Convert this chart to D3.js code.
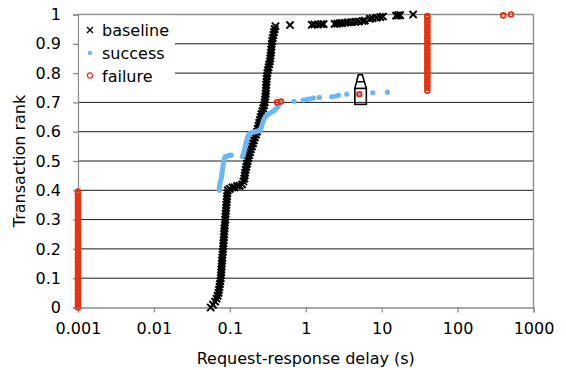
<!DOCTYPE html>
<html>
<head>
<meta charset="utf-8">
<script src="https://cdn.jsdelivr.net/npm/d3@7"></script>
<style>
  html, body { margin: 0; padding: 0; background: #fff; }
  svg { display: block; font-family: "DejaVu Sans", Verdana, sans-serif; }
</style>
</head>
<body>
<script>
// Axis ticks
const xTicks = [0.001, 0.01, 0.1, 1, 10, 100, 1000];
const xTickLabels = ["0.001", "0.01", "0.1", "1", "10", "100", "1000"];
const yTicks = [0, 0.1, 0.2, 0.3, 0.4, 0.5, 0.6, 0.7, 0.8, 0.9, 1];
const yTickLabels = ["0", "0.1", "0.2", "0.3", "0.4", "0.5", "0.6", "0.7", "0.8", "0.9", "1"];

// Series: [delay (s), transaction rank]
const baseline = [
  [0.056, 0.00], [0.060, 0.01], [0.064, 0.02], [0.067, 0.03], [0.069, 0.04], [0.071, 0.05],
  [0.072, 0.06], [0.073, 0.07], [0.074, 0.08], [0.075, 0.09], [0.076, 0.10], [0.0765, 0.11],
  [0.077, 0.12], [0.0775, 0.13], [0.078, 0.14], [0.0785, 0.15], [0.079, 0.16], [0.0795, 0.17],
  [0.080, 0.18], [0.081, 0.19], [0.0815, 0.20], [0.082, 0.21], [0.0825, 0.22], [0.083, 0.23],
  [0.0835, 0.24], [0.084, 0.25], [0.0845, 0.26], [0.085, 0.27], [0.086, 0.28], [0.0865, 0.29],
  [0.087, 0.30], [0.0875, 0.31], [0.088, 0.32], [0.089, 0.33], [0.0895, 0.34], [0.090, 0.35],
  [0.091, 0.36], [0.0915, 0.37], [0.092, 0.38], [0.093, 0.39], [0.094, 0.40], [0.100, 0.405],
  [0.108, 0.41], [0.116, 0.41], [0.125, 0.415], [0.135, 0.415], [0.145, 0.42], [0.151, 0.43],
  [0.155, 0.44], [0.157, 0.45], [0.159, 0.46], [0.162, 0.47], [0.165, 0.48], [0.168, 0.49],
  [0.172, 0.50], [0.176, 0.51], [0.180, 0.52], [0.185, 0.53], [0.190, 0.54], [0.196, 0.55],
  [0.202, 0.56], [0.208, 0.57], [0.214, 0.58], [0.221, 0.59], [0.228, 0.60], [0.233, 0.61],
  [0.238, 0.62], [0.244, 0.63], [0.249, 0.64], [0.255, 0.65], [0.261, 0.66], [0.268, 0.67],
  [0.275, 0.68], [0.282, 0.69], [0.288, 0.70], [0.291, 0.71], [0.294, 0.72], [0.297, 0.73],
  [0.299, 0.74], [0.300, 0.75], [0.302, 0.76], [0.304, 0.77], [0.306, 0.78], [0.308, 0.79],
  [0.312, 0.80], [0.318, 0.81], [0.324, 0.82], [0.330, 0.83], [0.337, 0.84], [0.341, 0.85],
  [0.345, 0.86], [0.348, 0.87], [0.351, 0.88], [0.354, 0.89], [0.357, 0.90], [0.362, 0.91],
  [0.368, 0.92], [0.375, 0.93], [0.382, 0.94], [0.390, 0.95], [0.400, 0.96],
  [0.62, 0.964], [1.2, 0.965], [1.3, 0.966], [1.45, 0.966], [1.6, 0.967], [1.72, 0.967],
  [2.4, 0.968], [2.6, 0.969], [2.8, 0.970], [3.0, 0.971], [3.3, 0.972], [3.6, 0.973],
  [4.0, 0.974], [4.5, 0.975], [5.0, 0.976], [5.6, 0.978], [6.0, 0.979], [7.0, 0.985],
  [7.6, 0.987], [8.6, 0.989], [9.6, 0.991], [10.4, 0.993], [15.5, 0.996], [16.5, 0.997],
  [17.5, 0.998], [26, 1.0]
];

const success = [
  [0.001, 0.40],
  [0.0725, 0.40], [0.073, 0.41], [0.074, 0.42], [0.075, 0.43], [0.077, 0.44], [0.078, 0.45],
  [0.079, 0.46], [0.080, 0.47], [0.081, 0.48], [0.082, 0.49], [0.083, 0.50], [0.085, 0.51],
  [0.088, 0.515], [0.093, 0.517], [0.098, 0.519], [0.104, 0.52],
  [0.146, 0.515], [0.150, 0.52], [0.153, 0.53], [0.156, 0.54], [0.160, 0.55], [0.163, 0.56],
  [0.166, 0.57], [0.170, 0.58], [0.177, 0.59], [0.186, 0.595], [0.196, 0.597], [0.207, 0.599],
  [0.218, 0.60], [0.230, 0.602], [0.242, 0.604], [0.252, 0.607], [0.260, 0.615], [0.267, 0.625],
  [0.275, 0.635], [0.284, 0.645], [0.296, 0.652], [0.310, 0.658], [0.330, 0.662], [0.352, 0.666],
  [0.375, 0.670], [0.400, 0.677], [0.425, 0.684], [0.445, 0.692], [0.460, 0.700],
  [0.70, 0.704], [0.93, 0.708], [1.03, 0.710], [1.14, 0.712], [1.26, 0.715], [1.51, 0.717],
  [2.2, 0.719], [2.43, 0.721], [2.69, 0.724], [3.47, 0.728], [5.08, 0.728], [7.64, 0.733],
  [11.9, 0.735]
];

const failure = [
  [0.001, 0.00], [0.001, 0.01], [0.001, 0.02], [0.001, 0.03], [0.001, 0.04], [0.001, 0.05],
  [0.001, 0.06], [0.001, 0.07], [0.001, 0.08], [0.001, 0.09], [0.001, 0.10], [0.001, 0.11],
  [0.001, 0.12], [0.001, 0.13], [0.001, 0.14], [0.001, 0.15], [0.001, 0.16], [0.001, 0.17],
  [0.001, 0.18], [0.001, 0.19], [0.001, 0.20], [0.001, 0.21], [0.001, 0.22], [0.001, 0.23],
  [0.001, 0.24], [0.001, 0.25], [0.001, 0.26], [0.001, 0.27], [0.001, 0.28], [0.001, 0.29],
  [0.001, 0.30], [0.001, 0.31], [0.001, 0.32], [0.001, 0.33], [0.001, 0.34], [0.001, 0.35],
  [0.001, 0.36], [0.001, 0.37], [0.001, 0.38], [0.001, 0.39], [0.001, 0.395],
  [0.42, 0.700], [0.47, 0.703], [5.08, 0.728],
  [40, 0.74], [40, 0.75], [40, 0.76], [40, 0.77], [40, 0.78], [40, 0.79], [40, 0.80],
  [40, 0.81], [40, 0.82], [40, 0.83], [40, 0.84], [40, 0.85], [40, 0.86], [40, 0.87],
  [40, 0.88], [40, 0.89], [40, 0.90], [40, 0.91], [40, 0.92], [40, 0.93], [40, 0.94],
  [40, 0.95], [40, 0.96], [40, 0.97], [40, 0.98], [40, 0.99], [40, 0.995],
  [400, 0.997], [505, 1.0]
];

// Highlighted transaction (boxed in the plot)
const highlight = [5.08, 0.728];

const legendItems = ["baseline", "success", "failure"];

const W = 566, H = 370;
const colors = { baseline: "#000000", success: "#6cb6f4", failure: "#e8300e" };
const FONT = "'DejaVu Sans', Verdana, sans-serif";

const svg = d3.select("body").append("svg").attr("width", W).attr("height", H);

const x = d3.scaleLog().domain([0.001, 1000]).range([78, 533.5]);
const y = d3.scaleLinear().domain([0, 1]).range([307.5, 14.5]);

// Horizontal gridlines
svg.append("g").selectAll("line")
  .data(yTicks.filter(v => v > 0 && v < 1))
  .join("line")
  .attr("x1", x(0.001)).attr("x2", x(1000))
  .attr("y1", d => y(d)).attr("y2", d => y(d))
  .attr("stroke", "#1a1a1a").attr("stroke-width", 1);

// Plot frame (top and right)
svg.append("line").attr("x1", x(0.001)).attr("x2", x(1000))
  .attr("y1", y(1)).attr("y2", y(1)).attr("stroke", "#8c8c8c").attr("stroke-width", 1.3);
svg.append("line").attr("x1", x(1000)).attr("x2", x(1000))
  .attr("y1", y(1)).attr("y2", y(0)).attr("stroke", "#8c8c8c").attr("stroke-width", 1.3);

// Axes
const xAxis = svg.append("g").attr("transform", `translate(0,${y(0)})`)
  .call(d3.axisBottom(x).tickValues(xTicks).tickFormat((d, i) => xTickLabels[i]).tickSize(5).tickPadding(10));
const yAxis = svg.append("g").attr("transform", `translate(${x(0.001)},0)`)
  .call(d3.axisLeft(y).tickValues(yTicks).tickFormat((d, i) => yTickLabels[i]).tickSize(5).tickPadding(12));
[xAxis, yAxis].forEach(a => {
  a.select(".domain").attr("stroke", "#8c8c8c").attr("stroke-width", 1.3);
  a.selectAll(".tick line").attr("stroke", "#8c8c8c").attr("stroke-width", 1.3);
  a.selectAll(".tick text").attr("fill", "#000").style("font-size", "16px").style("font-family", FONT);
});

// Legend background
svg.append("rect").attr("x", x(0.001) + 1).attr("y", y(1) + 1)
  .attr("width", 96).attr("height", 77).attr("fill", "#fff");

// Marker drawers
const cross = s => `M${-s},${-s}L${s},${s}M${s},${-s}L${-s},${s}`;
function drawBaseline(g, data) {
  g.selectAll("path").data(data).join("path")
    .attr("d", cross(3.6))
    .attr("transform", d => `translate(${x(d[0])},${y(d[1])})`)
    .attr("stroke", colors.baseline).attr("stroke-width", 2).attr("fill", "none");
}
function drawSuccess(g, data) {
  g.selectAll("circle").data(data).join("circle")
    .attr("cx", d => x(d[0])).attr("cy", d => y(d[1])).attr("r", 2.6)
    .attr("fill", colors.success);
}
function drawFailure(g, data) {
  g.selectAll("circle").data(data).join("circle")
    .attr("cx", d => x(d[0])).attr("cy", d => y(d[1])).attr("r", 2.4)
    .attr("fill", "none").attr("stroke", colors.failure).attr("stroke-width", 1.8);
}

drawBaseline(svg.append("g"), baseline);
drawSuccess(svg.append("g"), success);
drawFailure(svg.append("g"), failure);

// Box around the highlighted transaction
const hx = x(highlight[0]), hy = y(highlight[1]);
const ann = svg.append("g").attr("fill", "none").attr("stroke", "#000").attr("stroke-width", 1.6);
ann.append("rect").attr("x", hx - 4.5).attr("y", hy - 5.8).attr("width", 11.5).attr("height", 16);
ann.append("path").attr("d",
  `M${hx - 4.5},${hy - 5.8}L${hx - 1},${hy - 19.5}L${hx + 3},${hy - 19.5}L${hx + 7},${hy - 5.8}` +
  `M${hx - 2.5},${hy - 12.5}L${hx + 5},${hy - 12.5}`);

// Legend
const leg = svg.append("g").attr("transform", "translate(90,0)");
const rowY = [30, 53, 75.5];
leg.append("path").attr("d", cross(3)).attr("transform", `translate(0,${rowY[0]})`)
  .attr("stroke", "#000").attr("stroke-width", 1.3);
leg.append("circle").attr("cx", 0).attr("cy", rowY[1]).attr("r", 2.2).attr("fill", colors.success);
leg.append("circle").attr("cx", 0).attr("cy", rowY[2]).attr("r", 2.6)
  .attr("fill", "none").attr("stroke", colors.failure).attr("stroke-width", 1.2);
leg.selectAll("text").data(legendItems).join("text")
  .attr("x", 12).attr("y", (d, i) => rowY[i] + 6)
  .style("font-size", "16px").style("font-family", FONT).attr("fill", "#000").text(d => d);

// Axis titles
svg.append("text").attr("x", (x(0.001) + x(1000)) / 2).attr("y", 364)
  .attr("text-anchor", "middle").style("font-size", "16px").style("font-family", FONT)
  .text("Request-response delay (s)");
svg.append("text").attr("transform", `translate(25,${(y(0) + y(1)) / 2}) rotate(-90)`)
  .attr("text-anchor", "middle").style("font-size", "16px").style("font-family", FONT)
  .text("Transaction rank");
</script>
</body>
</html>
